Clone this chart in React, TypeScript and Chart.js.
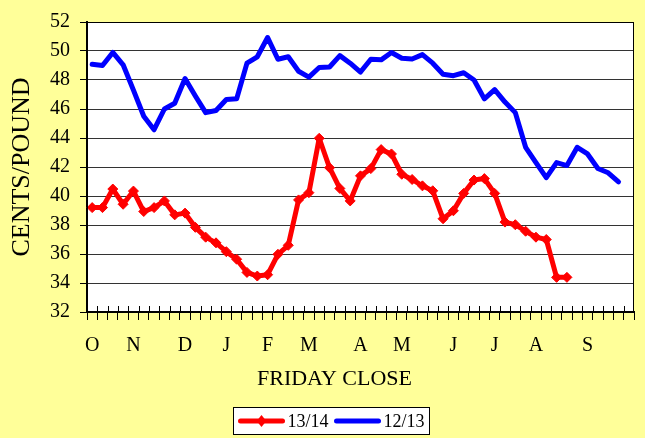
import React, { useEffect, useRef } from "react";
import { Chart, registerables } from "chart.js";

Chart.register(...registerables);

// Category labels (one per Friday, month initial at the first Friday of each month)
const xLabels: string[] = [
  "O", "", "", "", "N", "", "", "", "", "D", "", "", "", "J", "", "", "", "F", "", "", "",
  "M", "", "", "", "", "A", "", "", "", "M", "", "", "", "", "J", "", "", "", "J", "", "", "",
  "A", "", "", "", "", "S", "", "", "", "",
];

const series1314: number[] = [
  39.2, 39.2, 40.48, 39.43, 40.34, 38.93, 39.2, 39.66, 38.7, 38.82, 37.84, 37.16, 36.77,
  36.16, 35.64, 34.73, 34.48, 34.57, 35.98, 36.6, 39.73, 40.23, 43.98, 41.95, 40.52, 39.66,
  41.39, 41.89, 43.2, 42.9, 41.5, 41.14, 40.7, 40.36, 38.43, 38.98, 40.18, 41.1, 41.2,
  40.18, 38.2, 38.02, 37.57, 37.16, 37.0, 34.39, 34.39,
];

const series1213: number[] = [
  49.09, 49.0, 49.9, 49.05, 47.3, 45.5, 44.57, 46.0, 46.4, 48.1, 46.9, 45.75, 45.9, 46.66,
  46.7, 49.16, 49.6, 50.93, 49.43, 49.6, 48.6, 48.2, 48.86, 48.9, 49.68, 49.16, 48.55,
  49.43, 49.39, 49.9, 49.5, 49.45, 49.75, 49.16, 48.4, 48.3, 48.5, 48.0, 46.7, 47.34,
  46.48, 45.75, 43.36, 42.3, 41.27, 42.3, 42.1, 43.36, 42.9, 41.9, 41.6, 40.98,
];

const seriesLabels = ["13/14", "12/13"];
const xTitle = "FRIDAY CLOSE";
const yTitle = "CENTS/POUND";
const yMin = 32;
const yMax = 52;
const yStep = 2;

const FONT = "'Liberation Serif', 'Times New Roman', serif";

const bgPlugin = {
  id: "bgPlugin",
  beforeDraw(chart: any) {
    const { ctx, chartArea, width, height } = chart;
    ctx.save();
    ctx.fillStyle = "#FFFF99";
    ctx.fillRect(0, 0, width, height);
    ctx.fillStyle = "#FFFFFF";
    ctx.fillRect(chartArea.left, chartArea.top, chartArea.right - chartArea.left, chartArea.bottom - chartArea.top);
    ctx.restore();
  },
  afterDraw(chart: any) {
    const { ctx, chartArea } = chart;
    ctx.save();
    ctx.strokeStyle = "#000";
    ctx.lineWidth = 1;
    ctx.strokeRect(chartArea.left + 0.5, chartArea.top + 0.5, chartArea.right - chartArea.left - 1, chartArea.bottom - chartArea.top - 1);
    // upper part of x tick marks crossing the axis
    const xs = chart.scales.x;
    const n = chart.data.labels.length;
    ctx.lineWidth = 1;
    ctx.beginPath();
    for (let i = 1; i < n; i++) {
      const x = Math.round((xs.getPixelForValue(i - 1) + xs.getPixelForValue(i)) / 2) + 0.5;
      ctx.moveTo(x, chartArea.bottom - 6);
      ctx.lineTo(x, chartArea.bottom);
    }
    ctx.stroke();

    // x axis title
    ctx.fillStyle = "#000";
    ctx.font = `22px ${FONT}`;
    ctx.textAlign = "center";
    ctx.textBaseline = "middle";
    ctx.fillText(xTitle, chart.width / 2 + 12, 379);

    // legend
    const ds = chart.data.datasets;
    ctx.font = `18px ${FONT}`;
    ctx.textBaseline = "middle";
    const lineLen = 46;
    const gapLineText = 3;
    const gapItems = 6;
    const padX = 5;
    const widths = ds.map((d: any) => ctx.measureText(d.label).width);
    let total = padX * 2;
    widths.forEach((w: number, i: number) => {
      total += lineLen + gapLineText + w + (i < widths.length - 1 ? gapItems : 0);
    });
    const cx = chart.width / 2 + 8.5;
    const bx = Math.round(cx - total / 2) + 0.5;
    const by = 407.5;
    const bh = 27;
    ctx.fillStyle = "#fff";
    ctx.fillRect(bx, by, total, bh);
    ctx.strokeStyle = "#000";
    ctx.strokeRect(bx, by, total, bh);
    let x = bx + padX;
    const cy = by + bh / 2;
    ds.forEach((d: any, i: number) => {
      ctx.strokeStyle = d.borderColor;
      ctx.lineWidth = 5;
      ctx.lineCap = "round";
      ctx.beginPath();
      ctx.moveTo(x + 2, cy);
      ctx.lineTo(x + lineLen - 2, cy);
      ctx.stroke();
      if (d.pointRadius > 0) {
        const r = 6;
        const mx = x + lineLen / 2;
        ctx.fillStyle = d.borderColor;
        ctx.beginPath();
        ctx.moveTo(mx, cy - r);
        ctx.lineTo(mx + r * 0.8, cy);
        ctx.lineTo(mx, cy + r);
        ctx.lineTo(mx - r * 0.8, cy);
        ctx.closePath();
        ctx.fill();
      }
      x += lineLen + gapLineText;
      ctx.fillStyle = "#000";
      ctx.textAlign = "left";
      ctx.fillText(d.label, x, cy + 1);
      x += widths[i] + gapItems;
    });
    ctx.restore();
  },
};

export default function App() {
  const ref = useRef<HTMLCanvasElement | null>(null);
  useEffect(() => {
    document.body.style.margin = "0";
    const canvas = ref.current;
    if (!canvas) return;
    const chart = new Chart(canvas, {
      type: "line",
      data: {
        labels: xLabels,
        datasets: [
          {
            label: seriesLabels[0],
            data: series1314,
            borderColor: "#FF0000",
            backgroundColor: "#FF0000",
            borderWidth: 5,
            pointStyle: "rectRot",
            pointRadius: 5,
            pointBorderWidth: 1,
            pointBackgroundColor: "#FF0000",
            pointBorderColor: "#FF0000",
            borderJoinStyle: "round",
            borderCapStyle: "round",
            tension: 0,
          },
          {
            label: seriesLabels[1],
            data: series1213,
            borderColor: "#0000FF",
            backgroundColor: "#0000FF",
            borderWidth: 5,
            pointRadius: 0,
            borderJoinStyle: "round",
            borderCapStyle: "round",
            tension: 0,
          },
        ],
      },
      options: {
        animation: false,
        responsive: false,
        devicePixelRatio: 1,
        layout: { padding: { top: 18, right: 11, left: 0, bottom: 0 } },
        plugins: {
          legend: { display: false },
          tooltip: { enabled: false },
        },
        scales: {
          x: {
            type: "category",
            offset: true,
            grid: {
              offset: true,
              drawOnChartArea: false,
              drawTicks: true,
              tickLength: 8,
              color: "#000",
              tickColor: "#000",
            },
            border: { display: true, color: "#000", width: 2 },
            ticks: {
              autoSkip: false,
              maxRotation: 0,
              minRotation: 0,
              padding: 14,
              color: "#000",
              font: { family: FONT, size: 20 },
            },
            title: { display: false },
            afterFit(scale: any) {
              scale.height = 126;
            },
          },
          y: {
            min: yMin,
            max: yMax,
            grid: {
              color: "#333",
              tickColor: "#000",
              tickLength: 7,
              lineWidth: 1,
            },
            border: { display: true, color: "#000", width: 2 },
            ticks: {
              stepSize: yStep,
              padding: 10,
              color: "#000",
              font: { family: FONT, size: 20 },
            },
            title: {
              display: true,
              text: yTitle,
              color: "#000",
              font: { family: FONT, size: 26 },
              padding: { top: 7, bottom: 0 },
            },
            afterFit(scale: any) {
              scale.width = 87;
            },
          },
        },
      },
      plugins: [bgPlugin],
    });
    return () => chart.destroy();
  }, []);
  return (
    <div style={{ width: 645, height: 438 }}>
      <canvas ref={ref} width={645} height={438} style={{ display: "block", width: 645, height: 438 }} />
    </div>
  );
}
